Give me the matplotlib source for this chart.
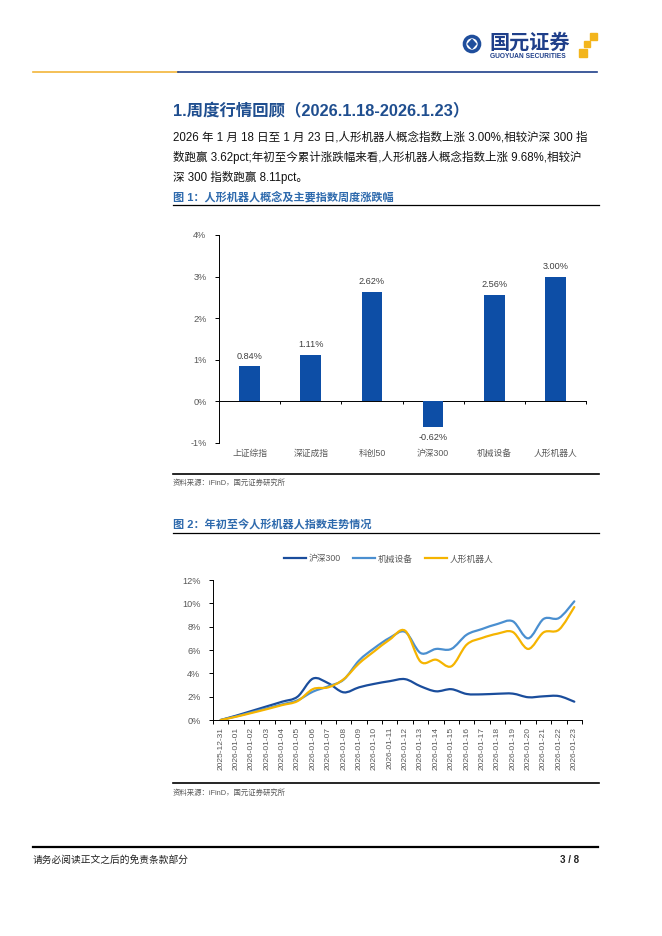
import matplotlib
matplotlib.use('Agg')
import matplotlib.pyplot as plt
from matplotlib.path import Path
from matplotlib.patches import PathPatch, Circle, Rectangle, Polygon
from matplotlib.lines import Line2D
import numpy as np

plt.rcParams['font.family'] = ['Liberation Sans', 'Noto Sans CJK SC']

# 图1 data
bar_names = ['上证综指', '深证成指', '科创50', '沪深300', '机械设备', '人形机器人']
bar_values = [0.84, 1.11, 2.62, -0.62, 2.56, 3.00]

# 图2 data (cumulative change since 2025-12-31, %)
dates = ['2025-12-31', '2026-01-01', '2026-01-02', '2026-01-03', '2026-01-04', '2026-01-05',
         '2026-01-06', '2026-01-07', '2026-01-08', '2026-01-09', '2026-01-10', '2026-01-11',
         '2026-01-12', '2026-01-13', '2026-01-14', '2026-01-15', '2026-01-16', '2026-01-17',
         '2026-01-18', '2026-01-19', '2026-01-20', '2026-01-21', '2026-01-22', '2026-01-23']
hs300 = [0, 0.37, 0.77, 1.17, 1.57, 2.0, 3.55, 3.15, 2.37, 2.8, 3.1, 3.33,
         3.5, 2.89, 2.46, 2.64, 2.23, 2.2, 2.25, 2.26, 1.95, 2.03, 2.05, 1.57]
jixie = [0, 0.31, 0.66, 1.0, 1.34, 1.69, 2.43, 2.89, 3.46, 5.1, 6.17, 7.05,
         7.55, 5.74, 6.09, 6.09, 7.31, 7.8, 8.23, 8.46, 7.0, 8.66, 8.74, 10.17]
robot = [0, 0.28, 0.6, 0.93, 1.28, 1.62, 2.65, 2.8, 3.5, 4.85, 5.9, 6.9,
         7.65, 5.0, 5.17, 4.6, 6.46, 7.03, 7.4, 7.54, 6.09, 7.51, 7.74, 9.68]
series_names = ['沪深300', '机械设备', '人形机器人']

W, H = 662, 936
NAVY = '#1f4e8f'
CAP_BLUE = '#2e6aad'
BAR_BLUE = '#0d4ea6'
GREY = '#595959'
line_colors = ['#1a4d9c', '#4a8fd0', '#f5b400']


def smooth_path(xs, ys):
    # excel style smoothed line: catmull-rom as cubic bezier
    pts = np.column_stack([xs, ys]).astype(float)
    n = len(pts)
    verts = [pts[0]]
    codes = [Path.MOVETO]
    for i in range(n - 1):
        p0 = pts[i - 1] if i > 0 else pts[i]
        p1 = pts[i]
        p2 = pts[i + 1]
        p3 = pts[i + 2] if i + 2 < n else pts[i + 1]
        verts += [p1 + (p2 - p0) / 6, p2 - (p3 - p1) / 6, p2]
        codes += [Path.CURVE4] * 3
    return Path(verts, codes)


def fig_rect(x0, y0, x1, y1):
    return [x0 / W, 1 - y1 / H, (x1 - x0) / W, (y1 - y0) / H]


fig = plt.figure(figsize=(W / 100, H / 100), dpi=100)

# page decorations in pixel coords
bg = fig.add_axes([0, 0, 1, 1])
bg.set_xlim(0, W)
bg.set_ylim(H, 0)
bg.axis('off')

# logo
bg.add_patch(Circle((472, 44), 7.5, fill=False, ec='#1f4e9c', lw=2.6))
bg.add_patch(Polygon([[472, 39.5], [476, 44], [472, 48.5], [468, 44]], color='#1f4e9c'))
bg.text(489, 43, '国元证券', fontsize=14.5, fontweight='bold', color='#1f3f8a', va='center', ha='left')
bg.text(490, 56.5, 'GUOYUAN SECURITIES', fontsize=4.8, fontweight='bold', color='#1f3f8a', va='center', ha='left')
for (sx, sy, ss) in [(590, 33, 7), (583.5, 40.5, 6.5), (579, 48.5, 8)]:
    bg.add_patch(Rectangle((sx, sy), ss, ss, color='#f3b51c'))

bg.plot([33, 178], [72, 72], color='#f2b53a', lw=1.2)
bg.plot([178, 597], [72, 72], color='#1f3f8a', lw=1.2)

bg.text(173, 111.5, '1.周度行情回顾（2026.1.18-2026.1.23）', fontsize=11.8, fontweight='bold',
        color=NAVY, va='center', ha='left')
body = ['2026 年 1 月 18 日至 1 月 23 日,人形机器人概念指数上涨 3.00%,相较沪深 300 指',
        '数跑赢 3.62pct;年初至今累计涨跌幅来看,人形机器人概念指数上涨 9.68%,相较沪',
        '深 300 指数跑赢 8.11pct。']
for k, line in enumerate(body):
    bg.text(173, 138 + 19.5 * k, line, fontsize=8.3, color='#111111', va='center', ha='left')

bg.text(173, 197, '图 1：人形机器人概念及主要指数周度涨跌幅', fontsize=8, fontweight='bold',
        color=CAP_BLUE, va='center', ha='left')
bg.plot([173, 599], [205, 205], color='black', lw=0.9)
bg.plot([173, 599], [474, 474], color='black', lw=1.2)
bg.text(173, 483, '资料来源：iFinD，国元证券研究所', fontsize=5.3, color=GREY, va='center', ha='left')

bg.text(173, 524, '图 2：年初至今人形机器人指数走势情况', fontsize=8, fontweight='bold',
        color=CAP_BLUE, va='center', ha='left')
bg.plot([173, 599], [533, 533], color='black', lw=0.9)
bg.plot([173, 599], [783, 783], color='black', lw=1.2)
bg.text(173, 793, '资料来源：iFinD，国元证券研究所', fontsize=5.3, color=GREY, va='center', ha='left')

bg.plot([33, 598], [846.5, 846.5], color='black', lw=1.6)
bg.text(33, 860, '请务必阅读正文之后的免责条款部分', fontsize=7, color='#222222', va='center', ha='left')
bg.text(579, 860, '3 / 8', fontsize=7, fontweight='bold', color='#222222', va='center', ha='right')

# 图1 bar chart
ax = fig.add_axes(fig_rect(219, 235, 586, 443))
xs = np.arange(len(bar_names))
ax.bar(xs, bar_values, width=0.34, color=BAR_BLUE, zorder=3)
for x, v in zip(xs, bar_values):
    off = 7.5 if v >= 0 else -7.5
    ax.annotate('%.2f%%' % v, (x, v), xytext=(0, off), textcoords='offset points',
                ha='center', va='center', fontsize=6.6, color='#404040')
    ax.annotate(bar_names[x], (x, -1), xytext=(0, -7.5), textcoords='offset points',
                ha='center', va='center', fontsize=6.3, color=GREY)
ax.set_xlim(-0.5, len(bar_names) - 0.5)
ax.set_ylim(-1, 4)
ax.set_yticks(range(-1, 5))
ax.set_yticklabels(['%d%%' % t for t in range(-1, 5)])
ax.set_xticks(np.arange(-0.5, len(bar_names), 1))
ax.set_xticklabels([])
ax.spines['bottom'].set_position(('data', 0))
ax.spines['top'].set_visible(False)
ax.spines['right'].set_visible(False)
for s in ['bottom', 'left']:
    ax.spines[s].set_linewidth(0.7)
ax.tick_params(axis='y', direction='out', length=3, width=0.7, labelsize=6.6, labelcolor=GREY, pad=6)
ax.tick_params(axis='x', direction='out', length=2.5, width=0.7)
ax.patch.set_visible(False)

# 图2 line chart
ax2 = fig.add_axes(fig_rect(213, 580, 582, 720))
idx = np.arange(len(dates))
handles = []
for ys, c, name in zip([hs300, jixie, robot], line_colors, series_names):
    ax2.add_patch(PathPatch(smooth_path(idx, ys), fill=False, ec=c, lw=1.6, capstyle='round'))
    handles.append(Line2D([], [], color=c, lw=1.6))
ax2.set_xlim(-0.5, len(dates) - 0.5)
ax2.set_ylim(0, 12)
ax2.set_yticks(range(0, 13, 2))
ax2.set_yticklabels(['%d%%' % t for t in range(0, 13, 2)])
ax2.set_xticks(np.arange(-0.5, len(dates), 1))
ax2.set_xticklabels([])
ax2.set_xticks(idx, minor=True)
ax2.set_xticklabels(dates, minor=True, rotation=90)
ax2.spines['top'].set_visible(False)
ax2.spines['right'].set_visible(False)
for s in ['bottom', 'left']:
    ax2.spines[s].set_linewidth(0.7)
ax2.tick_params(axis='y', direction='out', length=3, width=0.7, labelsize=6.6, labelcolor=GREY, pad=6)
ax2.tick_params(axis='x', which='major', direction='out', length=3, width=0.7)
ax2.tick_params(axis='x', which='minor', length=0, pad=5, labelsize=6, labelcolor=GREY)
ax2.patch.set_visible(False)
ax2.legend(handles, series_names, ncol=3, frameon=False, loc='center',
           bbox_to_anchor=(388.5 / W, 1 - 559 / H), bbox_transform=fig.transFigure,
           fontsize=6.3, labelcolor=GREY, handlelength=2.5, columnspacing=1.4, handletextpad=0.3)

fig.savefig('out.png', dpi=100)
